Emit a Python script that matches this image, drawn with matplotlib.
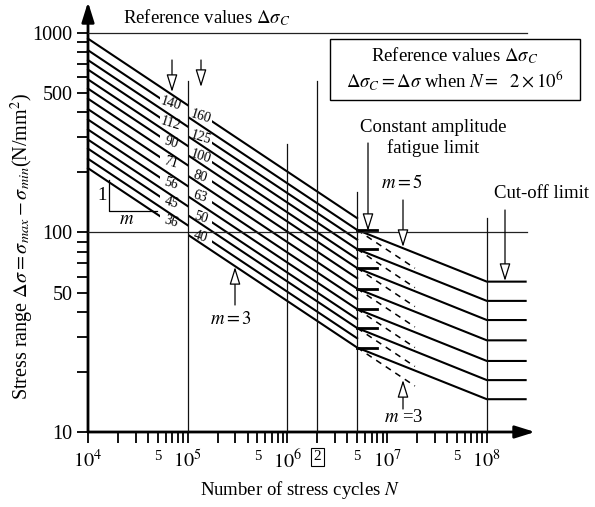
import numpy as np
import matplotlib
matplotlib.use("Agg")
import matplotlib.pyplot as plt
from matplotlib.patches import Rectangle
from matplotlib.lines import Line2D
from matplotlib.ticker import NullFormatter

plt.rcParams['font.family'] = ['Liberation Serif', 'DejaVu Serif']
plt.rcParams['mathtext.fontset'] = 'stix'

# detail categories (reference values at N = 2e6)
left_cats = [140, 112, 90, 71, 56, 45, 36]
right_cats = [160, 125, 100, 80, 63, 50, 40]

# stress range at N = 1e4 (left axis)
left_start = [819, 655, 526, 415, 328, 263, 210]
right_start = [936, 731, 585, 468, 368, 292, 234]

# constant amplitude fatigue limit at N = 5e6
left_fatigue = [103, 82.5, 66.3, 52.3, 41.3, 33.2, 26.5]
right_fatigue = [118, 92.1, 73.7, 59.0, 46.4, 36.8, 29.5]

# cut-off limit at N = 1e8
left_cutoff = [56.7, 45.4, 36.4, 28.8, 22.7, 18.2, 14.6]

# end of the dashed m=3 continuation at N = 1.9e7
left_dashed = [66.2, 52.9, 42.5, 33.6, 26.5, 21.3, 17.0]

N_start = 1e4
N_fatigue = 5e6
N_cutoff = 1e8
N_end = 2.45e8
N_dashed = 1.9e7

W, H = 595, 507
fig = plt.figure(figsize=(W / 100, H / 100), dpi=100)
ax = fig.add_axes([88 / W, 1 - 432 / H, 447 / W, 430 / H])
ax.set_xscale('log')
ax.set_yscale('log')
ax.set_xlim(1e4, 10 ** 8.483)
ax.set_ylim(10, 10 ** 3.155)
for s in ax.spines.values():
    s.set_visible(False)


def P(x, y):
    # pixel position (from top left) -> figure fraction
    return (x / W, 1 - y / H)


def seg(xs, ys, x0, x1, **kw):
    ln, = ax.plot(xs, ys, color='k', **kw)
    ln.set_clip_path(Rectangle((x0, 1), x1 - x0, 1e4, transform=ax.transData))


def on_line(n, n0, s0, n1, s1):
    t = np.log(n / n0) / np.log(n1 / n0)
    return s0 * (s1 / s0) ** t


lw = 1.5
# curves labelled left of 10^5, continued with m=5 and cut-off
for c, s0, sd, sl, se in zip(left_cats, left_start, left_fatigue, left_cutoff, left_dashed):
    xs = [N_start, N_fatigue, N_cutoff, N_end]
    ys = [s0, sd, sl, sl]
    seg(xs, ys, 1e3, 5.3e4, lw=lw, zorder=2)
    seg(xs, ys, 1e5, 1e9, lw=lw, zorder=2)
    ax.plot([N_fatigue, 8e6], [sd, sd], color='k', lw=2, zorder=2)
    ax.plot([N_fatigue, N_dashed], [sd, se], color='k', lw=1.1, ls=(0, (4, 3.5)), zorder=2)
    ax.text(6.8e4, on_line(6.8e4, N_start, s0, N_fatigue, sd) * 1.02, str(c), fontsize=10,
            rotation=-17, rotation_mode='anchor', ha='center', va='center', zorder=5)

# curves labelled right of 10^5, ending at 5e6
for c, s0, sd in zip(right_cats, right_start, right_fatigue):
    xs = [N_start, N_fatigue]
    ys = [s0, sd]
    seg(xs, ys, 1e3, 1e5, lw=lw, zorder=2)
    seg(xs, ys, 1.75e5, 1e9, lw=lw, zorder=2)
    ax.text(1.34e5, on_line(1.34e5, N_start, s0, N_fatigue, sd) * 0.97, str(c), fontsize=10,
            rotation=-17, rotation_mode='anchor', ha='center', va='center', zorder=5)

# thin reference lines
for yv in [1000, 100]:
    ax.plot([1e4, 2.53e8], [yv, yv], color='#222222', lw=0.9, zorder=4)
for xv, top in [(1e5, 574), (1e6, 277), (2e6, 574), (5e6, 160), (1e8, 118)]:
    ax.plot([xv, xv], [10, top], color='#111111', lw=0.9, zorder=4)

# ticks
ax.set_xticks([1e4, 1e5, 1e6, 1e7, 1e8])
ax.set_xticklabels([r'$10^4$', r'$10^5$', r'$10^6$', r'$10^7$', r'$10^8$'])
ax.set_xticks([m * 10 ** e for e in range(4, 8) for m in range(2, 10)], minor=True)
ax.xaxis.set_minor_formatter(NullFormatter())
ax.set_yticks([10, 50, 100, 500, 1000])
ax.set_yticklabels(['10', '50', '100', '500', '1000'])
ax.set_yticks([m * 10 ** e for e in range(1, 3) for m in [2, 3, 4, 6, 7, 8, 9]], minor=True)
ax.yaxis.set_minor_formatter(NullFormatter())
ax.tick_params(which='both', direction='out', length=8, width=1.3, labelsize=14.5)
ax.tick_params(axis='x', pad=5)
ax.tick_params(axis='y', pad=3)

xt = ax.get_xaxis_transform()
for e in range(4, 8):
    ax.text(5 * 10 ** e, -0.056, '5', transform=xt, fontsize=10.5, ha='center', va='center')
ax.text(2e6, -0.058, '2', transform=xt, fontsize=11, ha='center', va='center',
        bbox=dict(boxstyle='square,pad=0.15', fc='white', ec='k', lw=0.8))

# axis arrows
axis_arrow = dict(arrowstyle='-|>,head_length=0.8,head_width=0.25', lw=2, color='k',
                  mutation_scale=15, shrinkA=0, shrinkB=0)
ax.annotate('', xy=(0, 1), xytext=(0, 0), xycoords='axes fraction', arrowprops=axis_arrow,
            annotation_clip=False)
ax.annotate('', xy=(1, 0), xytext=(0, 0), xycoords='axes fraction', arrowprops=axis_arrow,
            annotation_clip=False)

# axis labels
fig.text(*P(300, 490), r'Number of stress cycles $N$', fontsize=13.5, ha='center', va='center')
fig.text(*P(22, 246), r'Stress range $\Delta\sigma=\sigma_{max}-\sigma_{min}$(N/mm$^2$)',
         fontsize=14.5, rotation=90, ha='center', va='center')

# annotations
open_arrow = dict(arrowstyle='-|>,head_length=0.9,head_width=0.28', lw=0.9, fc='white', ec='k',
                  mutation_scale=12, shrinkA=0, shrinkB=0)


def arrow(p0, p1):
    fig.add_artist(matplotlib.patches.FancyArrowPatch(P(*p0), P(*p1), transform=fig.transFigure,
                                                      **open_arrow))


fig.text(*P(207, 18), r'Reference values $\Delta\sigma_C$', fontsize=13.5, ha='center', va='center')
arrow((172, 60), (172, 92))
arrow((201, 60), (201, 87))

fig.add_artist(Rectangle(P(330, 100), 250 / W, 61 / H, transform=fig.transFigure,
                         fill=False, ec='k', lw=1))
fig.text(*P(455, 56), r'Reference values $\Delta\sigma_C$', fontsize=13.5, ha='center', va='center')
fig.text(*P(455, 81), r'$\Delta\sigma_C = \Delta\sigma$ when $N =$  $2\times 10^6$', fontsize=13.5,
         ha='center', va='center')

fig.text(*P(433, 127), 'Constant amplitude', fontsize=13.5, ha='center', va='center')
fig.text(*P(433, 148), 'fatigue limit', fontsize=13.5, ha='center', va='center')
arrow((368, 143), (368, 231))

fig.text(*P(402, 183), r'$m=5$', fontsize=13.5, ha='center', va='center')
arrow((403, 200), (403, 247))

fig.text(*P(542, 193), 'Cut-off limit', fontsize=13.5, ha='center', va='center')
arrow((505, 210), (505, 281))

fig.text(*P(231, 320), r'$m=3$', fontsize=13.5, ha='center', va='center')
arrow((235, 305), (235, 267))

fig.text(*P(404, 418), r'$m$ =3', fontsize=13.5, ha='center', va='center')
arrow((403, 409), (403, 380))

# slope triangle
fig.add_artist(Line2D([109 / W, 109 / W, 157 / W], [1 - 180 / H, 1 - 211 / H, 1 - 211 / H],
                      transform=fig.transFigure, color='k', lw=0.9))
fig.text(*P(102, 196), '1', fontsize=13.5, ha='center', va='center')
fig.text(*P(127, 219), r'$m$', fontsize=13.5, ha='center', va='center')

fig.savefig('out.png', dpi=100)
